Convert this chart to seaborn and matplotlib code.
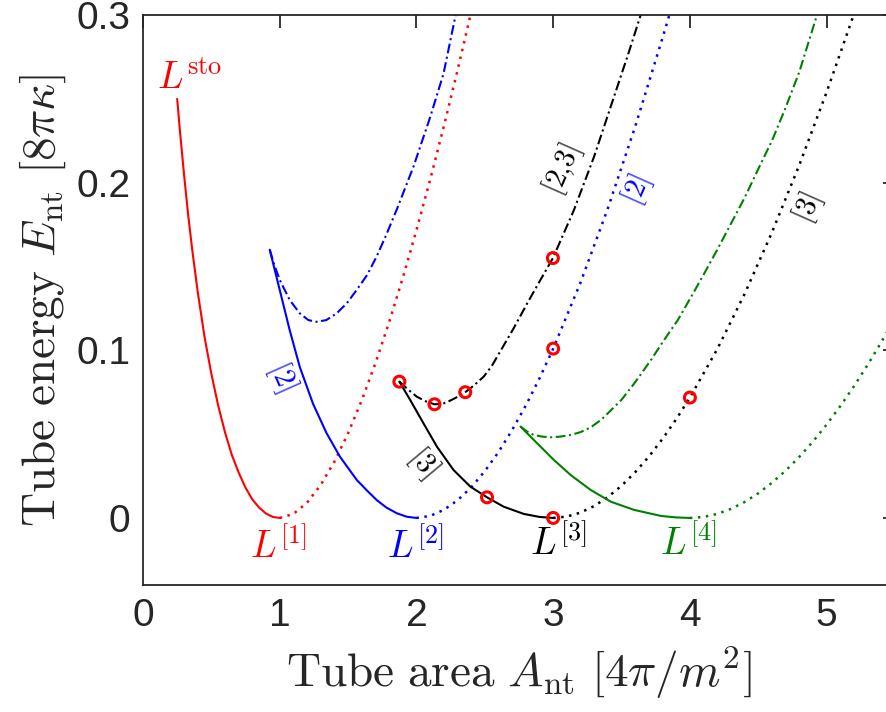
import numpy as np
import pandas as pd
import matplotlib
matplotlib.use("Agg")
import matplotlib.pyplot as plt
import seaborn as sns

# ---- data (tube area A, tube energy E) ----
red_solid_a = [0.25, 0.27, 0.30, 0.33, 0.36, 0.40, 0.45, 0.50, 0.55, 0.60, 0.65,
               0.70, 0.75, 0.80, 0.85, 0.90, 0.95, 1.00]
red_solid_e = [0.250, 0.231, 0.205, 0.181, 0.160, 0.135, 0.108, 0.086, 0.067, 0.051,
               0.0375, 0.027, 0.018, 0.011, 0.0061, 0.0026, 0.0006, 0.0]
red_dot_a = [1.0, 1.1, 1.2, 1.3, 1.4, 1.5, 1.6, 1.7, 1.8, 1.9, 2.0, 2.1, 2.2, 2.3, 2.4]
red_dot_e = [0.0, 0.0024, 0.0091, 0.0197, 0.0336, 0.0505, 0.0702, 0.0923, 0.1167,
             0.1432, 0.1716, 0.2017, 0.2335, 0.2669, 0.3016]

blue_solid_a = [0.927, 1.0, 1.073, 1.147, 1.244, 1.343, 1.44, 1.563, 1.64, 1.709, 1.78,
                1.856, 1.93, 2.0]
blue_solid_e = [0.160, 0.136, 0.112, 0.090, 0.068, 0.0505, 0.0366, 0.0227, 0.0162, 0.0107,
                0.0062, 0.0028, 0.0007, 0.0]
blue_dd_a = [0.927, 0.96, 1.0, 1.073, 1.147, 1.21, 1.269, 1.34, 1.416, 1.49, 1.563, 1.64,
             1.709, 1.78, 1.856, 1.978, 2.10, 2.198, 2.284, 2.29]
blue_dd_e = [0.160, 0.151, 0.142, 0.130, 0.122, 0.118, 0.117, 0.118, 0.122, 0.128, 0.136,
             0.145, 0.156, 0.169, 0.184, 0.2095, 0.239, 0.265, 0.299, 0.301]
blue_dot_a = [2.0, 2.1, 2.2, 2.3, 2.4, 2.5, 2.6, 2.7, 2.8, 2.9, 3.0, 3.2, 3.4, 3.6, 3.8, 3.86]
blue_dot_e = [0.0, 0.0012, 0.0048, 0.0105, 0.0182, 0.0279, 0.0393, 0.0525, 0.0671, 0.0833,
              0.101, 0.1404, 0.1847, 0.2335, 0.2864, 0.3029]

black_solid_a = [1.875, 1.954, 2.051, 2.150, 2.271, 2.394, 2.516, 2.638, 2.785, 2.90, 3.0]
black_solid_e = [0.0813, 0.0704, 0.0565, 0.0425, 0.0286, 0.0187, 0.0123, 0.0067, 0.0024,
                 0.0006, 0.0]
black_dd_a = [1.875, 1.94, 2.003, 2.07, 2.132, 2.19, 2.247, 2.30, 2.357, 2.42, 2.492, 2.55,
              2.614, 2.71, 2.81, 2.90, 2.998, 3.152, 3.299, 3.445, 3.55, 3.64]
black_dd_e = [0.0813, 0.0765, 0.0723, 0.0695, 0.0678, 0.0680, 0.0700, 0.0722, 0.0750, 0.0790,
              0.0843, 0.0905, 0.0995, 0.113, 0.128, 0.141, 0.155, 0.1837, 0.2155, 0.2513,
              0.277, 0.300]
black_dot_a = [3.0, 3.1, 3.2, 3.3, 3.4, 3.5, 3.6, 3.7, 3.8, 3.9, 4.0, 4.2, 4.4, 4.6, 4.8, 5.0, 5.2]
black_dot_e = [0.0, 0.0008, 0.0032, 0.0071, 0.0125, 0.0192, 0.0273, 0.0366, 0.0472, 0.0589,
               0.0718, 0.1007, 0.1336, 0.1703, 0.2105, 0.254, 0.3006]

green_solid_a = [2.761, 2.883, 3.005, 3.128, 3.274, 3.421, 3.592, 3.788, 3.90, 4.0]
green_solid_e = [0.0545, 0.0445, 0.0346, 0.0256, 0.0167, 0.0097, 0.0048, 0.0012, 0.0003, 0.0]
green_dd_a = [2.761, 2.81, 2.858, 2.92, 2.981, 3.05, 3.128, 3.20, 3.274, 3.35, 3.42, 3.50,
              3.60, 3.715, 3.81, 3.911, 4.01, 4.106, 4.20, 4.302, 4.40, 4.497, 4.60, 4.693,
              4.80, 4.918, 4.93]
green_dd_e = [0.0545, 0.0515, 0.0495, 0.0485, 0.0481, 0.0485, 0.0495, 0.0512, 0.0540, 0.0585,
              0.0640, 0.0705, 0.0810, 0.0942, 0.106, 0.118, 0.132, 0.146, 0.160, 0.1758,
              0.191, 0.2076, 0.225, 0.2433, 0.266, 0.297, 0.300]
green_dot_a = [4.0, 4.1, 4.2, 4.3, 4.4, 4.5, 4.6, 4.7, 4.8, 4.9, 5.0, 5.1, 5.2, 5.3, 5.4, 5.5]
green_dot_e = [0.0, 0.0006, 0.0024, 0.0054, 0.0095, 0.0147, 0.0210, 0.0282, 0.0364, 0.0456,
               0.0557, 0.0667, 0.0786, 0.0913, 0.1049, 0.1192]

circle_a = [1.875, 2.132, 2.357, 2.998, 3.0, 2.516, 3.0, 4.0]
circle_e = [0.0813, 0.0678, 0.0750, 0.155, 0.101, 0.0123, 0.0, 0.0718]

xticks = [0, 1, 2, 3, 4, 5]
yticks = [0, 0.1, 0.2, 0.3]
ytick_labels = ["0", "0.1", "0.2", "0.3"]

# ---- style ----
sns.set_style("white")
plt.rcParams["font.family"] = ["Liberation Sans", "DejaVu Sans"]
plt.rcParams["mathtext.fontset"] = "cm"

RED, BLUE, BLACK, GREEN = "#ff0000", "#0000ff", "#000000", "#008000"
AXC = "#262626"
SOLID = "-"
DOT = (0, (1, 2.2))
DASHDOT = (0, (4.7, 1.7, 1, 1.7))

fig = plt.figure(figsize=(8.86, 7.12), dpi=100)
ax = fig.add_axes([143 / 886, 127 / 712, 752 / 886, 570 / 712])

curves = [
    (red_solid_a, red_solid_e, RED, SOLID, 1.5),
    (red_dot_a, red_dot_e, RED, DOT, 1.8),
    (blue_solid_a, blue_solid_e, BLUE, SOLID, 1.5),
    (blue_dd_a, blue_dd_e, BLUE, DASHDOT, 1.5),
    (blue_dot_a, blue_dot_e, BLUE, DOT, 1.8),
    (black_solid_a, black_solid_e, BLACK, SOLID, 1.5),
    (black_dd_a, black_dd_e, BLACK, DASHDOT, 1.5),
    (black_dot_a, black_dot_e, BLACK, DOT, 1.8),
    (green_solid_a, green_solid_e, GREEN, SOLID, 1.5),
    (green_dd_a, green_dd_e, GREEN, DASHDOT, 1.5),
    (green_dot_a, green_dot_e, GREEN, DOT, 1.8),
]
for a, e, col, ls, w in curves:
    df = pd.DataFrame({"A": a, "E": e})
    sns.lineplot(data=df, x="A", y="E", color=col, linestyle=ls, lw=w,
                 sort=False, estimator=None, ax=ax)

sns.scatterplot(x=circle_a, y=circle_e, marker="o", s=62, facecolor="none",
                edgecolor=RED, linewidth=2.2, zorder=5, ax=ax, clip_on=False)

# curve labels
big = 27
ax.text(0.34, 0.262, r"$L^{\rm sto}$", color=RED, fontsize=big, ha="center", va="center")
ax.text(0.986, -0.0173, r"$L^{[1]}$", color=RED, fontsize=big, ha="center", va="center")
ax.text(1.99, -0.0173, r"$L^{[2]}$", color=BLUE, fontsize=big, ha="center", va="center")
ax.text(3.04, -0.0155, r"$L^{[3]}$", color=BLACK, fontsize=big, ha="center", va="center")
ax.text(3.99, -0.0155, r"$L^{[4]}$", color=GREEN, fontsize=big, ha="center", va="center")

small = 21
ax.text(1.014, 0.084, r"$[2]$", color=BLUE, fontsize=small, rotation=-66,
        ha="center", va="center")
ax.text(2.05, 0.0328, r"$[3]$", color=BLACK, fontsize=small, rotation=-50,
        ha="center", va="center")
ax.text(3.067, 0.2075, r"$[2{,}3]$", color=BLACK, fontsize=small, rotation=66,
        ha="center", va="center")
ax.text(3.61, 0.1956, r"$[2]$", color=BLUE, fontsize=small, rotation=66,
        ha="center", va="center")
ax.text(4.86, 0.185, r"$[3]$", color=BLACK, fontsize=small, rotation=66,
        ha="center", va="center")

ax.set_xlim(0, 5.5)
ax.set_ylim(-0.04, 0.3)
ax.set_xticks(xticks)
ax.set_yticks(yticks)
ax.set_yticklabels(ytick_labels)
ax.tick_params(direction="in", length=9, width=1.3, color=AXC,
               labelsize=28, top=True, right=True, pad=9, labelcolor=AXC)
for sp in ax.spines.values():
    sp.set_color(AXC)
    sp.set_linewidth(1.3)

ax.set_xlabel(r"$\mathrm{Tube\ area}\ A_\mathrm{nt}\ [4\pi/m^2]$", fontsize=34,
              color=AXC, labelpad=8)
ax.set_ylabel(r"$\mathrm{Tube\ energy}\ E_\mathrm{nt}\ [8\pi\kappa]$", fontsize=34,
              color=AXC, labelpad=6)

fig.savefig("out.png", dpi=100)
